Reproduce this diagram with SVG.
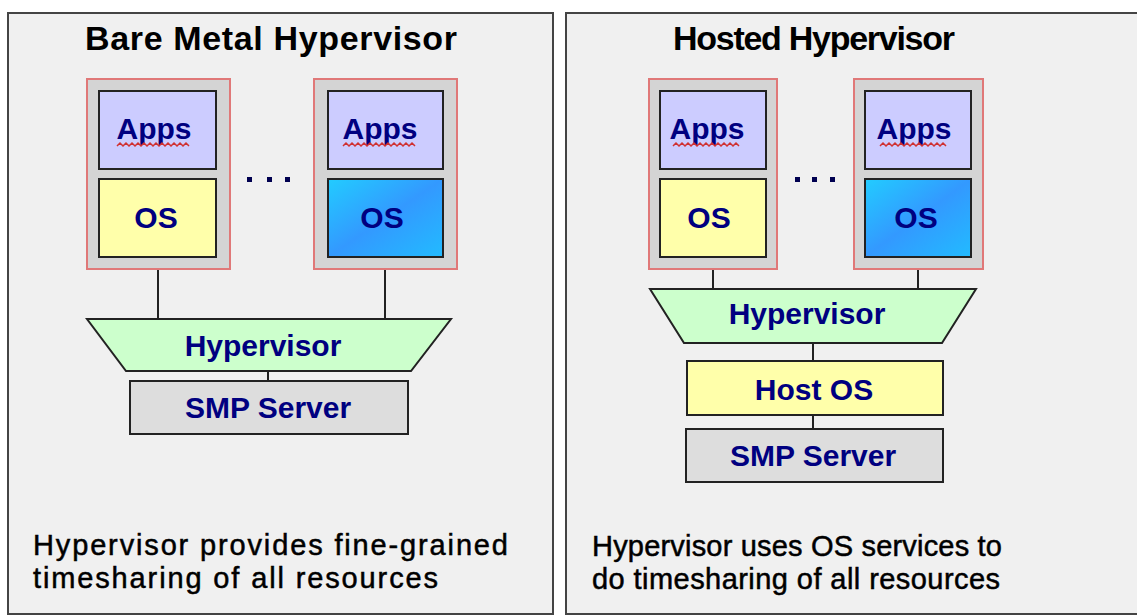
<svg xmlns="http://www.w3.org/2000/svg" width="1137" height="616" viewBox="0 0 1137 616">
  <style>
    .panel { fill: #f0f0f0; stroke: #444444; stroke-width: 2; }
    .title { font-family: "Liberation Sans", Arial, sans-serif; font-weight: bold; font-size: 34px; fill: #000000; text-anchor: middle; }
    .lbl { font-family: "Liberation Sans", Arial, sans-serif; font-weight: bold; font-size: 30px; fill: #000080; text-anchor: middle; }
    .note { font-family: "Liberation Sans", Arial, sans-serif; font-size: 29px; fill: #000000; stroke: #000000; stroke-width: 0.5; }
    .vm { fill: #d4d4d4; stroke: #e07878; stroke-width: 2; }
    .apps { fill: #ccccff; stroke: #222222; stroke-width: 2; }
    .os1 { fill: #ffffaa; stroke: #222222; stroke-width: 2; }
    .os2 { fill: url(#blueOs); stroke: #222222; stroke-width: 2; }
    .hyp { fill: #ccffcc; stroke: #222222; stroke-width: 2; }
    .hostos { fill: #ffffaa; stroke: #222222; stroke-width: 2; }
    .smp { fill: #dddddd; stroke: #222222; stroke-width: 2; }
    .link { stroke: #222222; stroke-width: 2; fill: none; }
    .squig { stroke: #d03030; stroke-width: 1.5; fill: none; }
    .dot { fill: #000050; }
  </style>
  <defs>
    <linearGradient id="blueOs" x1="0" y1="0" x2="1" y2="1">
      <stop offset="0" stop-color="#22ccff"/>
      <stop offset="0.5" stop-color="#3399ff"/>
      <stop offset="1" stop-color="#22bbff"/>
    </linearGradient>
  </defs>

  <rect width="1137" height="616" fill="#ffffff"/>

  <!-- panel frames and captions -->
  <g id="panel-bare-metal">
    <rect class="panel" x="8" y="13" width="545" height="601"/>
    <text class="title" x="271" y="50" textLength="372">Bare Metal Hypervisor</text>
    <text class="note" x="33" y="555" textLength="475">Hypervisor provides fine-grained</text>
    <text class="note" x="33" y="588" textLength="405">timesharing of all resources</text>
  </g>
  <g id="panel-hosted">
    <path class="panel" d="M1140 13 H566 V614 H1140"/>
    <text class="title" x="814" y="50" textLength="282">Hosted Hypervisor</text>
    <text class="note" x="592" y="556" textLength="410">Hypervisor uses OS services to</text>
    <text class="note" x="592" y="589" textLength="408">do timesharing of all resources</text>
  </g>

  <!-- connectors -->
  <g id="connectors">
    <line class="link" x1="158" y1="269" x2="158" y2="319"/>
    <line class="link" x1="385" y1="269" x2="385" y2="319"/>
    <line class="link" x1="268" y1="371" x2="268" y2="381"/>
    <line class="link" x1="713" y1="269" x2="713" y2="289"/>
    <line class="link" x1="918" y1="269" x2="918" y2="289"/>
    <line class="link" x1="813" y1="343" x2="813" y2="361"/>
    <line class="link" x1="813" y1="415" x2="813" y2="429"/>
  </g>

  <!-- bare metal: virtual machines -->
  <g id="bm-vm1">
    <rect class="vm" x="87" y="79" width="143" height="190"/>
    <rect class="apps" x="99" y="91" width="117" height="78"/>
    <text class="lbl" x="154" y="139">Apps</text>
    <path class="squig" d="M117 146 l3 -3 l3 3 l3 -3 l3 3 l3 -3 l3 3 l3 -3 l3 3 l3 -3 l3 3 l3 -3 l3 3 l3 -3 l3 3 l3 -3 l3 3 l3 -3 l3 3 l3 -3 l3 3 l3 -3 l3 3 l3 -3 l3 3"/>
    <rect class="os1" x="99" y="179" width="117" height="78"/>
    <text class="lbl" x="156" y="228">OS</text>
  </g>
  <g id="bm-dots">
    <rect class="dot" x="247" y="177" width="5" height="5"/>
    <rect class="dot" x="267" y="177" width="5" height="5"/>
    <rect class="dot" x="285" y="177" width="5" height="5"/>
  </g>
  <g id="bm-vm2">
    <rect class="vm" x="314" y="79" width="143" height="190"/>
    <rect class="apps" x="328" y="91" width="115" height="78"/>
    <text class="lbl" x="380" y="139">Apps</text>
    <path class="squig" d="M343 146 l3 -3 l3 3 l3 -3 l3 3 l3 -3 l3 3 l3 -3 l3 3 l3 -3 l3 3 l3 -3 l3 3 l3 -3 l3 3 l3 -3 l3 3 l3 -3 l3 3 l3 -3 l3 3 l3 -3 l3 3 l3 -3 l3 3"/>
    <rect class="os2" x="328" y="179" width="115" height="78"/>
    <text class="lbl" x="382" y="228">OS</text>
  </g>
  <g id="bm-hypervisor">
    <polygon class="hyp" points="87,319 451,319 411,371 126,371"/>
    <text class="lbl" x="263" y="356">Hypervisor</text>
  </g>
  <g id="bm-smp">
    <rect class="smp" x="130" y="381" width="278" height="53"/>
    <text class="lbl" x="268" y="418">SMP Server</text>
  </g>

  <!-- hosted: virtual machines -->
  <g id="h-vm1">
    <rect class="vm" x="649" y="79" width="128" height="190"/>
    <rect class="apps" x="660" y="91" width="106" height="78"/>
    <text class="lbl" x="707" y="139">Apps</text>
    <path class="squig" d="M673 146 l3 -3 l3 3 l3 -3 l3 3 l3 -3 l3 3 l3 -3 l3 3 l3 -3 l3 3 l3 -3 l3 3 l3 -3 l3 3 l3 -3 l3 3 l3 -3 l3 3 l3 -3 l3 3 l3 -3 l3 3"/>
    <rect class="os1" x="660" y="179" width="106" height="78"/>
    <text class="lbl" x="709" y="228">OS</text>
  </g>
  <g id="h-dots">
    <rect class="dot" x="795" y="177" width="5" height="5"/>
    <rect class="dot" x="812" y="177" width="5" height="5"/>
    <rect class="dot" x="830" y="177" width="5" height="5"/>
  </g>
  <g id="h-vm2">
    <rect class="vm" x="854" y="79" width="129" height="190"/>
    <rect class="apps" x="865" y="91" width="106" height="78"/>
    <text class="lbl" x="914" y="139">Apps</text>
    <path class="squig" d="M880 146 l3 -3 l3 3 l3 -3 l3 3 l3 -3 l3 3 l3 -3 l3 3 l3 -3 l3 3 l3 -3 l3 3 l3 -3 l3 3 l3 -3 l3 3 l3 -3 l3 3 l3 -3 l3 3 l3 -3 l3 3"/>
    <rect class="os2" x="865" y="179" width="106" height="78"/>
    <text class="lbl" x="916" y="228">OS</text>
  </g>
  <g id="h-hypervisor">
    <polygon class="hyp" points="650,289 976,289 942,343 684,343"/>
    <text class="lbl" x="807" y="324">Hypervisor</text>
  </g>
  <g id="h-hostos">
    <rect class="hostos" x="687" y="361" width="256" height="54"/>
    <text class="lbl" x="814" y="400">Host OS</text>
  </g>
  <g id="h-smp">
    <rect class="smp" x="686" y="429" width="257" height="53"/>
    <text class="lbl" x="813" y="466">SMP Server</text>
  </g>
</svg>
